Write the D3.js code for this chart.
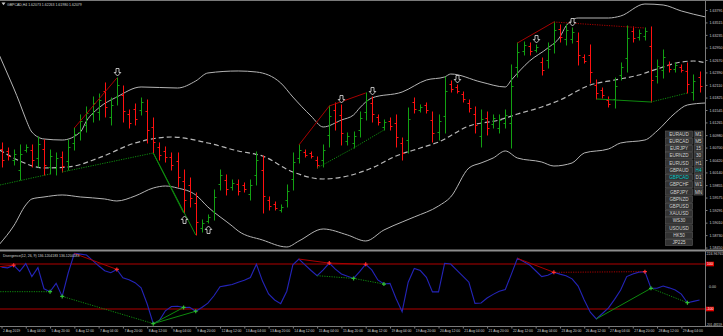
<!DOCTYPE html>
<html>
<head>
<meta charset="utf-8">
<script src="https://cdn.jsdelivr.net/npm/d3@7"></script>
<style>
  body { margin: 0; background: #000; }
  svg { display: block; }
  text { font-family: Arial, "Liberation Sans", sans-serif; }
</style>
</head>
<body>
<div id="chart"></div>
<script>
// GBPCAD H4, bars 0..115 (2 Aug 2019 12:00 onwards)
const open = [
  1.60668,1.60623,1.60420,1.60195,1.60645,1.60645,1.60465,1.60668,1.60263,1.60240,
  1.60488,1.60398,1.60803,1.61050,1.61208,1.61455,1.61500,1.61973,1.61388,1.61838,
  1.61883,1.61455,1.61568,1.61545,1.61523,1.61163,1.60713,1.60623,1.60488,1.60398,
  1.59948,1.59858,1.59453,1.58890,1.59048,1.59273,1.59880,1.59970,1.59813,1.59880,
  1.59858,1.59655,1.60083,1.60195,1.59520,1.59430,1.59295,1.59520,1.59993,1.60465,
  1.60600,1.60578,1.60420,1.60420,1.60983,1.61545,1.61433,1.60848,1.60803,1.61095,
  1.61500,1.61703,1.61388,1.61163,1.61298,1.61253,1.60803,1.60870,1.61725,1.61545,
  1.61658,1.61320,1.61050,1.61410,1.62130,1.62063,1.61905,1.61703,1.61455,1.60960,
  1.61365,1.61230,1.61140,1.61253,1.61253,1.62513,1.62873,1.62985,1.62895,1.62625,
  1.62670,1.63030,1.63368,1.63143,1.63143,1.63098,1.62738,1.62783,1.62108,1.61995,
  1.61770,1.61793,1.62333,1.62715,1.63323,1.63188,1.63210,1.62985,1.62310,1.62445,
  1.62558,1.62468,1.62513,1.62423,1.61950,1.62288
];
const high = [
  1.60803,1.60690,1.60645,1.60758,1.60758,1.60758,1.60938,1.60870,1.60645,1.60578,
  1.60600,1.60870,1.61140,1.61433,1.61613,1.61838,1.61905,1.62153,1.61815,1.62265,
  1.62085,1.61545,1.61680,1.61815,1.61770,1.61365,1.60803,1.60713,1.60578,1.60578,
  1.60195,1.60015,1.59678,1.59070,1.59183,1.59745,1.60195,1.60083,1.59970,1.59970,
  1.59903,1.59970,1.60600,1.60510,1.59588,1.59475,1.59408,1.59858,1.60578,1.60758,
  1.60645,1.60600,1.60488,1.60758,1.61635,1.61703,1.61658,1.61028,1.61050,1.61500,
  1.61928,1.61838,1.61433,1.61320,1.61365,1.61433,1.60915,1.61590,1.61815,1.61658,
  1.61703,1.61500,1.61433,1.62288,1.62198,1.62108,1.61950,1.61770,1.61613,1.61545,
  1.61500,1.61433,1.61433,1.61545,1.62558,1.63053,1.63075,1.63053,1.63008,1.62715,
  1.63053,1.63525,1.63458,1.63458,1.63390,1.63278,1.62783,1.63008,1.62220,1.62040,
  1.61838,1.62265,1.62603,1.63435,1.63413,1.63345,1.63390,1.63413,1.62670,1.62895,
  1.62625,1.62603,1.62558,1.62603,1.62333,1.62400
];
const low = [
  1.60263,1.60420,1.60308,1.59970,1.60600,1.60263,1.60263,1.60083,1.60105,1.60083,
  1.60150,1.60195,1.60645,1.60870,1.61050,1.61275,1.61320,1.61388,1.61208,1.61658,
  1.61275,1.61140,1.61208,1.61433,1.60803,1.60578,1.60420,1.60375,1.60195,1.59813,
  1.59228,1.59363,1.58733,1.58800,1.59003,1.59070,1.59745,1.59633,1.59745,1.59633,
  1.59700,1.59520,1.59858,1.59228,1.59295,1.59295,1.59250,1.59363,1.59745,1.60353,
  1.60488,1.60465,1.60240,1.60263,1.60713,1.61095,1.60758,1.60758,1.60690,1.60938,
  1.61320,1.61275,1.61208,1.61095,1.61095,1.60713,1.60420,1.60578,1.61478,1.61500,
  1.61478,1.60825,1.60870,1.61028,1.61950,1.61928,1.61725,1.61500,1.61028,1.60713,
  1.60983,1.61140,1.61028,1.61140,1.60690,1.62288,1.62783,1.62783,1.62850,1.62333,
  1.62490,1.62828,1.63075,1.63008,1.63053,1.62558,1.62603,1.62153,1.61793,1.61815,
  1.61613,1.61590,1.62220,1.62400,1.63075,1.63120,1.63120,1.61725,1.62153,1.62265,
  1.62400,1.62400,1.62400,1.61928,1.61770,1.61950
];
const close = [
  1.60420,1.60510,1.60555,1.60555,1.60713,1.60420,1.60780,1.60308,1.60510,1.60465,
  1.60285,1.60713,1.61005,1.61298,1.61478,1.61703,1.61770,1.61613,1.61658,1.62108,
  1.61523,1.61253,1.61343,1.61725,1.61095,1.60825,1.60533,1.60488,1.60308,1.60038,
  1.59520,1.59565,1.59025,1.59003,1.59138,1.59588,1.60083,1.59768,1.59903,1.59723,
  1.59768,1.59858,1.60420,1.59610,1.59385,1.59340,1.59363,1.59723,1.60375,1.60645,
  1.60533,1.60510,1.60308,1.60645,1.61410,1.61275,1.61028,1.60960,1.60960,1.61365,
  1.61770,1.61455,1.61275,1.61275,1.61185,1.60938,1.60578,1.61343,1.61568,1.61613,
  1.61545,1.61028,1.61298,1.61973,1.62018,1.61973,1.61793,1.61590,1.61208,1.61343,
  1.61140,1.61365,1.61320,1.61433,1.62085,1.62850,1.63008,1.62873,1.62963,1.62445,
  1.62918,1.63345,1.63188,1.63345,1.63300,1.62783,1.62648,1.62400,1.61928,1.61883,
  1.61680,1.62085,1.62513,1.63165,1.63165,1.63278,1.63323,1.62220,1.62535,1.62738,
  1.62468,1.62558,1.62445,1.62130,1.62198,1.62085
];

// Bollinger bands, [bar, price]
const upperBand = [
  [-0.3,1.62760],[1,1.62355],[2,1.62040],[3,1.61703],[4,1.61343],[5,1.61050],[7,1.60893],
  [10,1.60870],[13,1.61050],[14,1.61298],[16,1.61590],[19,1.61838],[23,1.62063],[29,1.62040],
  [32,1.62198],[34,1.62378],[39,1.62423],[42,1.62400],[46,1.62153],[48,1.61838],[51,1.61410],
  [53,1.61163],[56,1.61320],[58,1.61433],[59,1.61590],[61,1.61815],[66,1.61950],[70,1.62220],
  [73,1.62288],[74,1.62355],[79,1.62175],[83,1.62063],[84,1.62220],[87,1.62648],[90,1.62940],
  [92,1.63188],[93,1.63435],[95,1.63615],[100,1.63615],[102,1.63660],[106,1.63930],
  [109,1.63908],[112,1.63773],[116,1.63638]
];
const middleBand = [
  [-0.3,1.60645],[3,1.60398],[7,1.60240],[11,1.60263],[16,1.60465],[22,1.60803],[28,1.60938],
  [34,1.60803],[39,1.60623],[43,1.60510],[48,1.60150],[53,1.59993],[57,1.60060],[61,1.60240],
  [65,1.60510],[69,1.60690],[72,1.60825],[77,1.61185],[82,1.61320],[85,1.61455],[89,1.61613],
  [92,1.61770],[97,1.62108],[101,1.62220],[105,1.62333],[108,1.62468],[112,1.62625],
  [114,1.62648],[116,1.62603]
];
const lowerBand = [
  [-0.3,1.58530],[2,1.58935],[4,1.59408],[5,1.59543],[7,1.59588],[10,1.59633],[13,1.59588],
  [17,1.59543],[19,1.59498],[22,1.59610],[25,1.59790],[27,1.59835],[29,1.59790],[32,1.59633],
  [34,1.59363],[38,1.58935],[39,1.58823],[43,1.58620],[47,1.58463],[49,1.58598],[53,1.58868],
  [57,1.58733],[60,1.58598],[63,1.58845],[66,1.59025],[68,1.59138],[72,1.59385],[74,1.59588],
  [77,1.60240],[79,1.60353],[81,1.60465],[83,1.60623],[85,1.60465],[89,1.60375],[91,1.60285],
  [94,1.60353],[96,1.60578],[100,1.60668],[102,1.60803],[106,1.60870],[108,1.61073],
  [111,1.61478],[113,1.61658],[116,1.61703]
];

// Divergence(12,26,9) value per bar
const divergence = [
  86,83,95,67,102,44,84,-10,-23,14,
  -44,61,147,144,140,116,92,70,61,76,
  39,30,17,-6,-78,-165,-151,-108,-89,-88,
  -93,-92,-110,-93,-74,-41,-1,4,9,19,
  28,40,99,24,-33,-60,-76,-21,96,122,
  96,71,48,74,104,77,56,46,36,66,
  99,74,29,11,14,-53,-112,19,80,71,
  41,-24,-24,103,100,73,46,19,-75,-73,
  -51,-35,-21,-13,55,125,111,96,70,44,
  50,63,55,48,34,2,-60,-114,-144,-120,
  -95,-57,-16,44,56,64,66,-8,-8,2,
  -6,-16,-34,-72,-66,-60
];
const divLevels = [100, -100];

// divergence lines: [fromBar, from, toBar, to, colour, dotted]; 'h'/'l' = bar high/low
const priceDivLines = [
  [12,"h",19,"h","r",0],[10,"l",25,"l","g",1],[25,"l",30,"l","g",0],[25,"l",32,"l","g",0],
  [49,"h",54,"h","r",0],[54,"h",60,"h","r",0],[52,"l",58,"l","g",1],[58,"l",63,"l","g",1],
  [85,"h",91,"h","r",0],[91,"h",106,"h","r",1],[98,"l",107,"l","g",0],[107,"l",113,"l","g",1],
  [-1,1.59835,8,"l","g",1]
];
const indDivLines = [
  [-1,86,2,null,"r",0],[12,null,19,null,"r",0],[-1,-23,8,null,"g",1],[10,null,25,null,"g",1],
  [25,null,30,null,"g",0],[25,null,32,null,"g",0],[49,null,54,null,"r",0],[54,null,60,null,"r",0],
  [52,null,58,null,"g",1],[58,null,63,null,"g",1],[85,null,91,null,"r",0],[91,null,106,null,"r",1],
  [98,null,107,null,"g",0],[107,null,113,null,"g",1]
];
const redMarks = [2, 19, 54, 60, 91, 106];
const greenMarks = [8, 10, 25, 30, 32, 58, 63, 107, 113];
const downArrows = [19, 56, 61, 75, 88, 94];
const upArrows = [30, 34];

const priceTicks = [1.63795,1.63515,1.63235,1.62950,1.62670,1.62390,1.62110,1.61825,1.61545,1.61265,
  1.60980,1.60700,1.60420,1.60140,1.59855,1.59575,1.59295,1.59010,1.58730,1.58450];
const timeLabels = ["2 Aug 2019","5 Aug 04:00","5 Aug 20:00","6 Aug 12:00","7 Aug 04:00","7 Aug 20:00",
  "8 Aug 12:00","9 Aug 04:00","9 Aug 20:00","12 Aug 12:00","13 Aug 04:00","13 Aug 20:00","14 Aug 12:00",
  "15 Aug 04:00","15 Aug 20:00","16 Aug 12:00","19 Aug 04:00","19 Aug 20:00","20 Aug 12:00",
  "21 Aug 04:00","21 Aug 20:00","22 Aug 12:00","23 Aug 04:00","23 Aug 20:00","26 Aug 12:00",
  "27 Aug 04:00","27 Aug 20:00","28 Aug 12:00","29 Aug 04:00"];
const timeBars = timeLabels.map((d, i) => i * 4);

const symbols = ["EURAUD","EURCAD","EURJPY","EURNZD","EURUSD","GBPAUD","GBPCAD","GBPCHF",
  "GBPJPY","GBPNZD","GBPUSD","XAUUSD","WS30","USOUSD","HK50","JP225"];
const periods = ["M1","M5","15","30","H1","H4","D1","W1","MN"];

const W = 723, H = 336, plotR = 705;
const mainTop = 1, mainBot = 249.5, indTop = 251.5, indBot = 326;

const svg = d3.select("#chart").append("svg")
  .attr("width", W).attr("height", H)
  .style("background", "#000");

const x = d3.scaleLinear().domain([0, 115]).range([1.5, 699.55]);
const y = d3.scaleLinear().domain([1.58450, 1.63795]).range([247.56, 10]);
const yi = d3.scaleLinear().domain([-100, 100]).range([309, 264]);
const px = i => Math.round(x(i)) + 0.5;

const defs = svg.append("defs");
defs.append("clipPath").attr("id", "clipMain").append("rect")
  .attr("x", 0).attr("y", mainTop).attr("width", plotR).attr("height", mainBot - mainTop);
defs.append("clipPath").attr("id", "clipInd").append("rect")
  .attr("x", 0).attr("y", indTop).attr("width", plotR).attr("height", indBot - indTop);

const colr = { r: "#a80000", g: "#0e8a0e" };

// ---- main window
const main = svg.append("g").attr("clip-path", "url(#clipMain)");

const band = d3.line().x(d => x(d[0])).y(d => y(d[1])).curve(d3.curveMonotoneX);
main.append("path").attr("d", band(upperBand)).attr("fill", "none").attr("stroke", "#b4b4b4").attr("stroke-width", 1);
main.append("path").attr("d", band(lowerBand)).attr("fill", "none").attr("stroke", "#b4b4b4").attr("stroke-width", 1);
main.append("path").attr("d", band(middleBand)).attr("fill", "none").attr("stroke", "#b8b8b8")
  .attr("stroke-width", 1.2).attr("stroke-dasharray", "5,3");

const barIdx = d3.range(open.length);
const bars = main.append("g").selectAll("g").data(barIdx).join("g")
  .attr("stroke", i => close[i] >= open[i] ? "#12a012" : "#ff1010")
  .attr("stroke-width", 1);
bars.append("line").attr("x1", px).attr("x2", px)
  .attr("y1", i => y(high[i]) - 0.5).attr("y2", i => y(low[i]) + 0.5);
bars.append("line").attr("x1", i => px(i) - 2).attr("x2", px)
  .attr("y1", i => Math.round(y(open[i])) + 0.5).attr("y2", i => Math.round(y(open[i])) + 0.5);
bars.append("line").attr("x1", px).attr("x2", i => px(i) + 2)
  .attr("y1", i => Math.round(y(close[i])) + 0.5).attr("y2", i => Math.round(y(close[i])) + 0.5);

const endPrice = (b, v) => v === "h" ? high[b] : v === "l" ? low[b] : v;
main.append("g").selectAll("line").data(priceDivLines).join("line")
  .attr("x1", d => x(d[0])).attr("y1", d => y(endPrice(d[0], d[1])))
  .attr("x2", d => x(d[2])).attr("y2", d => y(endPrice(d[2], d[3])))
  .attr("stroke", d => colr[d[4]]).attr("stroke-width", 1)
  .attr("stroke-dasharray", d => d[5] ? "1.2,1.2" : null);

// signal arrows
const arrowDown = (cx, b) => `M${cx - 1.5},${b - 7.5}H${cx + 1.5}V${b - 3.5}H${cx + 3.3}L${cx},${b}L${cx - 3.3},${b - 3.5}H${cx - 1.5}Z`;
const arrowUp = (cx, t) => `M${cx - 1.5},${t + 7.5}H${cx + 1.5}V${t + 3.5}H${cx + 3.3}L${cx},${t}L${cx - 3.3},${t + 3.5}H${cx - 1.5}Z`;
main.append("g").selectAll("path").data(downArrows).join("path")
  .attr("d", i => arrowDown(px(i), y(high[i]) - 2))
  .attr("fill", "#000").attr("stroke", "#e6e6e6").attr("stroke-width", 0.8);
main.append("g").selectAll("path").data(upArrows).join("path")
  .attr("d", i => arrowUp(px(i), y(low[i]) + 3))
  .attr("fill", "#000").attr("stroke", "#e6e6e6").attr("stroke-width", 0.8);

// ---- indicator window
const ind = svg.append("g").attr("clip-path", "url(#clipInd)");
ind.selectAll("line.lvl").data(divLevels).join("line").attr("class", "lvl")
  .attr("x1", 0).attr("x2", plotR).attr("y1", d => yi(d)).attr("y2", d => yi(d))
  .attr("stroke", "#b00000").attr("stroke-width", 1);

const indLine = d3.line().x((d, i) => x(i)).y(d => yi(d));
ind.append("path").attr("d", indLine(divergence)).attr("fill", "none")
  .attr("stroke", "#2424b8").attr("stroke-width", 1.1);

const endVal = (b, v) => v === null ? divergence[b] : v;
ind.append("g").selectAll("line").data(indDivLines).join("line")
  .attr("x1", d => x(d[0])).attr("y1", d => yi(endVal(d[0], d[1])))
  .attr("x2", d => x(d[2])).attr("y2", d => yi(endVal(d[2], d[3])))
  .attr("stroke", d => colr[d[4]]).attr("stroke-width", 1)
  .attr("stroke-dasharray", d => d[5] ? "1.2,1.2" : null);

const cross = (cx, cy) => `M${cx - 2},${cy}H${cx + 2}M${cx},${cy - 2}V${cy + 2}`;
ind.append("g").selectAll("path").data(redMarks).join("path")
  .attr("d", i => cross(x(i), yi(divergence[i]))).attr("stroke", "#ff3030").attr("stroke-width", 1.2);
ind.append("g").selectAll("path").data(greenMarks).join("path")
  .attr("d", i => cross(x(i), yi(divergence[i]))).attr("stroke", "#30c030").attr("stroke-width", 1.2);

// ---- frames and axes
svg.append("line").attr("x1", 0).attr("x2", W).attr("y1", 0.5).attr("y2", 0.5).attr("stroke", "#7a7a7a");
svg.append("rect").attr("x", 0).attr("y", 249.5).attr("width", W).attr("height", 2).attr("fill", "#8c8c8c");
svg.append("line").attr("x1", 0).attr("x2", W).attr("y1", indBot + 0.5).attr("y2", indBot + 0.5).attr("stroke", "#7a7a7a");
svg.append("line").attr("x1", plotR + 0.5).attr("x2", plotR + 0.5).attr("y1", 0).attr("y2", indBot).attr("stroke", "#7a7a7a");

const fs = 3.6, txt = "#d2d2d2";
const pAxis = svg.append("g").attr("transform", `translate(${plotR + 0.5},0)`)
  .call(d3.axisRight(y).tickValues(priceTicks).tickFormat(d3.format(".5f")).tickSize(2).tickPadding(2));
pAxis.select(".domain").remove();
pAxis.selectAll("line").attr("stroke", "#7a7a7a");
pAxis.selectAll("text").attr("fill", txt).style("font-size", fs + "px").style("font-family", "Arial, 'Liberation Sans', sans-serif");

const tAxis = svg.append("g").attr("transform", `translate(0,${indBot + 0.5})`)
  .call(d3.axisBottom(x).tickValues(timeBars).tickFormat((d, i) => timeLabels[i]).tickSize(2).tickPadding(1));
tAxis.select(".domain").remove();
tAxis.selectAll("line").attr("stroke", "#7a7a7a");
tAxis.selectAll("text").attr("fill", txt).attr("text-anchor", "start").attr("dx", 1)
  .style("font-size", "3.4px").style("font-family", "Arial, 'Liberation Sans', sans-serif");

// indicator scale labels
const ia = svg.append("g").style("font-size", fs + "px");
ia.append("text").attr("x", 706.5).attr("y", indTop + 3.6).attr("fill", txt).text("224.96765");
ia.append("text").attr("x", 709).attr("y", yi(0) + 1.3).attr("fill", txt).text("0.00");
ia.append("text").attr("x", 706).attr("y", indBot - 0.4).attr("fill", txt).style("font-size", "3.2px").text("-201.48159");
divLevels.forEach(v => {
  ia.append("rect").attr("x", 706).attr("y", yi(v) - 2.3).attr("width", 8).attr("height", 4.6).attr("fill", "#e00000");
  ia.append("text").attr("x", 710).attr("y", yi(v) + 1.3).attr("text-anchor", "middle").attr("fill", "#fff").text(v);
});

// titles
svg.append("path").attr("d", "M1.5,2.5H5.5L3.5,5.2Z").attr("fill", "#c8c8c8");
svg.append("text").attr("x", 7).attr("y", 5.5).attr("fill", txt).style("font-size", "3.5px")
  .text("GBPCAD,H4  1.62073 1.62263 1.61980 1.62079");
svg.append("text").attr("x", 3).attr("y", 256.5).attr("fill", txt).style("font-size", "3.5px")
  .text("Divergence(12, 26, 9) 136.1204183 136.1204183");

// symbol / timeframe buttons
const btn = svg.append("g").style("font-size", "4.6px");
const rowY = i => 131 + i * 7.22;
btn.selectAll("g.sym").data(symbols).join("g").attr("class", "sym").each(function (s, i) {
  const g = d3.select(this);
  g.append("rect").attr("x", 665.5).attr("y", rowY(i)).attr("width", 27).attr("height", 6.3)
    .attr("fill", "#333").attr("stroke", "#5c5c5c").attr("stroke-width", 0.6);
  g.append("text").attr("x", 679).attr("y", rowY(i) + 4.8).attr("text-anchor", "middle")
    .attr("fill", s === "GBPCAD" ? "#00c8c8" : "#d0d0d0").text(s);
});
btn.selectAll("g.per").data(periods).join("g").attr("class", "per").each(function (s, i) {
  const g = d3.select(this);
  g.append("rect").attr("x", 694).attr("y", rowY(i)).attr("width", 9).attr("height", 6.3)
    .attr("fill", "#333").attr("stroke", "#5c5c5c").attr("stroke-width", 0.6);
  g.append("text").attr("x", 698.5).attr("y", rowY(i) + 4.8).attr("text-anchor", "middle")
    .attr("fill", s === "H4" ? "#00c8c8" : "#d0d0d0").text(s);
});
</script>
</body>
</html>
